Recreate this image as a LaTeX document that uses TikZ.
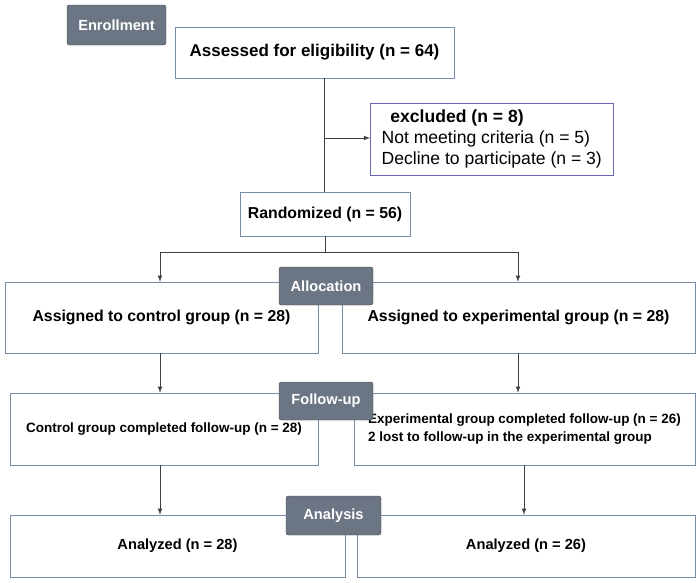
\documentclass[tikz,border=0pt]{standalone}
\usepackage{fontspec}
\setmainfont{Liberation Sans}
\definecolor{tagfill}{RGB}{108,117,132}
\definecolor{boxline}{RGB}{120,140,170}
\begin{document}
\begin{tikzpicture}[x=0.03cm,y=-0.03cm,
    box/.style={draw=boxline, fill=white, font=\bfseries\fontsize{13.5}{16}\selectfont},
    tag/.style={draw=black!70, fill=tagfill, rounded corners=2pt, text=white, font=\bfseries\fontsize{12.5}{15}\selectfont},
    arr/.style={-latex, thick, black!75}]
    \useasboundingbox (0,0) rectangle (700,582);

    % boxes
    \node[box, minimum width=279*0.03cm, minimum height=51*0.03cm, font=\bfseries\fontsize{14.5}{17}\selectfont] (assess) at (314.5,52.5) {Assessed for eligibility (n = 64)};
    \node[box, draw=blue!50!black!60, minimum width=243*0.03cm, minimum height=72*0.03cm, align=left, font=\fontsize{15}{18}\selectfont, anchor=north west, inner xsep=8pt] (excl) at (370,103)
        {\hspace*{0.5em}\textbf{excluded (n = 8)}\\Not meeting criteria (n = 5)\\Decline to participate (n = 3)};
    \node[box, minimum width=170*0.03cm, minimum height=44*0.03cm] (rand) at (325,214) {Randomized (n = 56)};
    \node[box, minimum width=313*0.03cm, minimum height=71*0.03cm] (ctrl) at (161.5,317.5) {Assigned to control group (n = 28)};
    \node[box, minimum width=353*0.03cm, minimum height=71*0.03cm] (expt) at (518.5,317.5) {Assigned to experimental group (n = 28)};
    \node[box, minimum width=308*0.03cm, minimum height=72*0.03cm, font=\bfseries\fontsize{11.5}{15}\selectfont] (cfol) at (164,429) {Control group completed follow-up (n = 28)};
    \node[box, minimum width=341*0.03cm, minimum height=72*0.03cm, font=\bfseries\fontsize{11.5}{15}\selectfont, align=left] (efol) at (524.5,429)
        {Experimental group completed follow-up (n = 26)\\2 lost to follow-up in the experimental group};
    \node[box, minimum width=335*0.03cm, minimum height=62*0.03cm, font=\bfseries\fontsize{12.5}{15}\selectfont] (cana) at (177.5,546) {Analyzed (n = 28)};
    \node[box, minimum width=338*0.03cm, minimum height=62*0.03cm, font=\bfseries\fontsize{12.5}{15}\selectfont] (eana) at (526,546) {Analyzed (n = 26)};

    % stage tags
    \node[tag, minimum width=99*0.03cm, minimum height=40*0.03cm] (enrol) at (116.5,25) {Enrollment};
    \node[tag, minimum width=94*0.03cm, minimum height=38*0.03cm] (alloc) at (326,286) {Allocation};
    \node[tag, minimum width=94*0.03cm, minimum height=38*0.03cm] (follow) at (326,401) {Follow-up};
    \node[tag, minimum width=95*0.03cm, minimum height=39*0.03cm] (anal) at (333.5,515.5) {Analysis};

    % connectors
    \coordinate (branch) at (324,138);
    \coordinate (split) at (325,252);
    \draw[thick, black!75] (assess.south -| branch) -- (rand.north -| branch);
    \draw[arr] (branch) -- (excl.west |- branch);
    \draw[thick, black!75] (rand.south) -- (split);
    \draw[thick, black!75] (160,252) -- (518,252);
    \draw[arr] (160,252) -- (ctrl.north -| 160,0);
    \draw[arr] (518,252) -- (expt.north -| 518,0);
    \draw[arr] (ctrl.south -| 160,0) -- (cfol.north -| 160,0);
    \draw[arr] (expt.south -| 518,0) -- (efol.north -| 518,0);
    \draw[arr] (cfol.south -| 160,0) -- (cana.north -| 160,0);
    \draw[arr] (efol.south -| 524,0) -- (eana.north -| 524,0);
\end{tikzpicture}
\end{document}
